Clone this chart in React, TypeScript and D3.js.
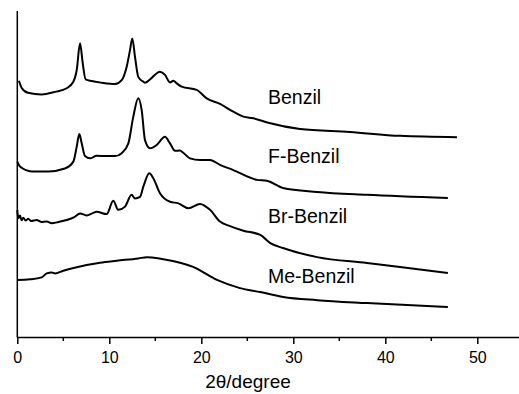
import React, { useRef, useEffect } from 'react'
import * as d3 from 'd3'

// 2-theta (degree), intensity (arb. units, stacked)
const benzil: [number, number][] = [
  [0.18, 78.6], [0.48, 76.4], [1.16, 74.9], [2.65, 74.4], [4.1, 75.2], [5.37, 76.3],
  [6.09, 78.3], [6.46, 81.9], [6.82, 90.1], [7.11, 84.0], [7.43, 79.0], [8.09, 78.5],
  [9.17, 78.0], [10.62, 77.6], [11.35, 78.8], [11.89, 82.9], [12.25, 88.0], [12.5, 91.6],
  [12.79, 86.0], [13.15, 79.8], [13.7, 78.3], [13.88, 78.0], [14.42, 79.0], [15.51, 81.4],
  [16.05, 80.4], [16.6, 78.1], [16.96, 78.6], [17.33, 77.8], [17.87, 76.8], [19.5, 75.8],
  [20.59, 73.2], [22.03, 71.5], [23.48, 69.1], [24.57, 67.6], [25.65, 67.1], [27.28, 65.7],
  [30.73, 63.8], [36.16, 62.9], [41.6, 61.7], [47.79, 61.3]
]

const fBenzil: [number, number][] = [
  [0, 53.8], [0.29, 52.3], [1.57, 50.8], [3.37, 50.8], [5.18, 51.7], [6.09, 53.8],
  [6.46, 58.4], [6.74, 62.3], [7.0, 59.4], [7.36, 55.5], [7.9, 54.8], [8.63, 55.6],
  [9.72, 55.5], [10.62, 55.5], [11.35, 56.4], [12.07, 59.4], [12.61, 67.6], [13.15, 73.2],
  [13.52, 69.6], [13.88, 60.4], [14.42, 57.9], [15.15, 58.9], [16.05, 61.4], [16.6, 59.4],
  [17.14, 57.1], [17.68, 57.2], [18.04, 56.5], [18.77, 54.8], [19.86, 54.3], [20.95, 54.3],
  [22.03, 52.8], [23.48, 51.2], [26.05, 48.2], [27.14, 47.9], [28.88, 45.7], [32.58, 44.5],
  [37.97, 43.6], [46.8, 42.6]
]

const brBenzil: [number, number][] = [
  [0, 39.0], [0.11, 36.4], [0.3, 37.3], [0.45, 35.8], [0.65, 36.6], [0.9, 35.7], [1.2, 36.3],
  [1.5, 35.6], [2.11, 35.9], [2.6, 35.3], [3.2, 35.4], [3.74, 34.9], [4.5, 35.3], [5.37, 35.9],
  [6.2, 36.8], [6.82, 37.9], [7.54, 37.3], [8.2, 38.0], [8.63, 38.4], [9.72, 37.7],
  [10.43, 41.8], [10.98, 39.0], [11.71, 40.0], [12.43, 43.6], [12.79, 42.5], [13.34, 43.0],
  [13.7, 46.1], [14.35, 50.2], [14.78, 48.7], [15.51, 44.1], [16.6, 41.5], [17.5, 41.0],
  [18.59, 39.5], [19.86, 40.8], [20.95, 39.0], [22.03, 35.4], [23.12, 34.0], [24.57, 32.6],
  [26.41, 31.3], [27.5, 28.8], [28.88, 27.3], [32.58, 24.5], [38.0, 22.7], [41.6, 21.5],
  [46.8, 19.6]
]

const meBenzil: [number, number][] = [
  [0, 17.5], [1.38, 17.7], [2.65, 18.3], [3.2, 19.5], [3.74, 19.8], [4.1, 19.5], [5.0, 20.3],
  [6.46, 21.4], [7.54, 22.1], [8.99, 22.8], [10.8, 23.4], [13.15, 24.1], [14.1, 24.5],
  [16.9, 23.3], [19.1, 21.5], [21.7, 17.5], [24.2, 15.0], [26.4, 13.8], [28.9, 12.3],
  [32.6, 11.3], [38.0, 10.4], [46.8, 9.2]
]

const seriesNames = ['Benzil', 'F-Benzil', 'Br-Benzil', 'Me-Benzil']
const seriesData = [benzil, fBenzil, brBenzil, meBenzil]
const labelY = [71.5, 53.4, 35.0, 16.6] // label baseline, intensity units

const xTicks = [0, 10, 20, 30, 40, 50]
const xMinorTicks = [5, 15, 25, 35, 45]

function App() {
  const ref = useRef<SVGSVGElement>(null)

  useEffect(() => {
    const W = 519
    const H = 394
    const svg = d3.select(ref.current)
    svg.selectAll('*').remove()

    const x = d3.scaleLinear().domain([0, 54.5]).range([17.3, 518.7])
    const y = d3.scaleLinear().domain([0, 100]).range([337, 11])

    const font = 'Arial, "Liberation Sans", sans-serif'

    // axes
    svg.append('line')
      .attr('x1', x(0)).attr('x2', x(0))
      .attr('y1', y(100)).attr('y2', y(0) + 0.5)
      .attr('stroke', '#000').attr('stroke-width', 1.5)

    const xAxis = d3.axisBottom(x)
      .tickValues(xTicks)
      .tickSize(7)
      .tickSizeOuter(0)
      .tickFormat(d3.format('d'))

    const gx = svg.append('g').attr('transform', `translate(0,${y(0)})`).call(xAxis)
    gx.select('.domain').attr('stroke-width', 1.5)
    gx.selectAll('.tick line').attr('stroke-width', 1.5)
    gx.selectAll('.tick text')
      .attr('font-family', font)
      .attr('font-size', 16)
      .attr('fill', '#000')
      .attr('dy', null)
      .attr('y', 26)

    gx.selectAll('.minor')
      .data(xMinorTicks)
      .join('line')
      .attr('x1', d => x(d)).attr('x2', d => x(d))
      .attr('y1', 0).attr('y2', 4)
      .attr('stroke', '#000').attr('stroke-width', 1.5)

    svg.append('text')
      .attr('x', 248).attr('y', 388)
      .attr('text-anchor', 'middle')
      .attr('font-family', font)
      .attr('font-size', 19)
      .text('2θ/degree')

    const line = d3.line<[number, number]>()
      .x(d => x(d[0]))
      .y(d => y(d[1]))
      .curve(d3.curveMonotoneX)

    svg.selectAll('.trace')
      .data(seriesData)
      .join('path')
      .attr('class', 'trace')
      .attr('d', d => line(d))
      .attr('fill', 'none')
      .attr('stroke', '#000')
      .attr('stroke-width', 2)
      .attr('stroke-linejoin', 'round')

    svg.selectAll('.label')
      .data(seriesNames)
      .join('text')
      .attr('class', 'label')
      .attr('x', 268)
      .attr('y', (d, i) => y(labelY[i]))
      .attr('font-family', font)
      .attr('font-size', 19.5)
      .text(d => d)

    svg.attr('width', W).attr('height', H)
  }, [])

  return (
    <svg ref={ref} width={519} height={394}
      style={{ position: 'absolute', left: 0, top: 0, background: '#fff' }} />
  )
}

export default App
